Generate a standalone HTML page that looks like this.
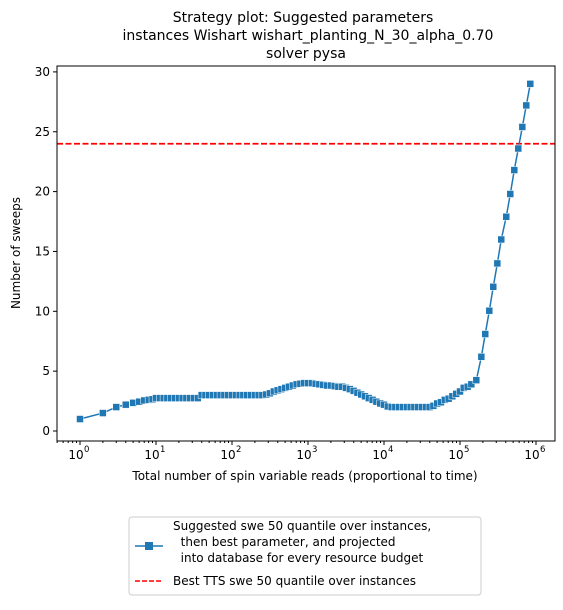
<!DOCTYPE html>
<html><head><meta charset="utf-8"><style>
body{margin:0;background:#fff;font-family:"Liberation Sans","DejaVu Sans",sans-serif}
svg text{font-family:"DejaVu Sans","Liberation Sans",sans-serif;white-space:pre}
</style></head><body>
<svg id="chart" width="563" height="605" xmlns="http://www.w3.org/2000/svg">
<rect width="563" height="605" fill="#fff"/>
<g font-size="14" text-anchor="middle" fill="#000">
<text x="303" y="22">Strategy plot: Suggested parameters</text>
<text x="308" y="40">instances Wishart wishart_planting_N_30_alpha_0.70</text>
<text x="306" y="58">solver pysa</text>
</g>
<g id="plot"></g>
<text x="305" y="480" font-size="12" text-anchor="middle">Total number of spin variable reads (proportional to time)</text>
<text transform="translate(20,253) rotate(-90)" font-size="12" text-anchor="middle">Number of sweeps</text>
<g>
<rect x="129" y="517" width="352" height="78" fill="#fff" stroke="#ccc" rx="3"/>
<line x1="135" y1="546" x2="163" y2="546" stroke="#1f77b4" stroke-width="1.5"/>
<rect x="145" y="542" width="8" height="8" fill="#1f77b4"/>
<text font-size="12" x="173" y="530">Suggested swe 50 quantile over instances,</text>
<text font-size="12" x="173" y="546">&#160;&#160;then best parameter, and projected</text>
<text font-size="12" x="173" y="562">&#160;&#160;into database for every resource budget</text>
<line x1="135" y1="581" x2="163" y2="581" stroke="#ff0000" stroke-width="1.5" stroke-dasharray="5,2"/>
<text font-size="12" x="173" y="585">Best TTS swe 50 quantile over instances</text>
</g>
</svg>
<script>
const reads=[1,2,3,4,5,6,7,8,9,
10,11.2,12.6,14.1,15.8,17.8,20,22.4,25.1,28.2,31.6,35.5,39.8,44.7,50.1,56.2,63.1,70.8,79.4,89.1,
100,112,126,141,158,178,200,224,251,282,316,355,398,447,501,562,631,708,794,891,
1000,1120,1260,1410,1580,1780,2000,2240,2510,2820,3160,3550,3980,4470,5010,5620,6310,7080,7940,8910,
10000,11200,12600,14100,15800,17800,20000,22400,25100,28200,31600,35500,39800,44700,50100,56200,63100,70800,79400,89100,
100000,112000,126000,141000,164000,191000,215000,243000,274000,310000,349000,406000,459000,518000,585000,661000,745000,841000];
const sweeps=[1.0,1.5,2.0,2.2,2.35,2.45,2.55,2.6,2.65,
2.75,2.75,2.75,2.75,2.75,2.75,2.75,2.75,2.75,2.75,2.75,2.75,3.0,3.0,3.0,3.0,3.0,3.0,3.0,3.0,
3.0,3.0,3.0,3.0,3.0,3.0,3.0,3.0,3.0,3.05,3.15,3.3,3.4,3.5,3.6,3.7,3.8,3.9,3.95,4.0,
4.0,4.0,3.95,3.9,3.85,3.8,3.8,3.75,3.7,3.7,3.6,3.5,3.35,3.2,3.05,2.9,2.75,2.6,2.45,2.3,
2.2,2.05,2.0,2.0,2.0,2.0,2.0,2.0,2.0,2.0,2.0,2.0,2.0,2.1,2.3,2.4,2.6,2.7,2.9,3.1,
3.3,3.6,3.7,3.9,4.25,6.2,8.1,10.05,12.05,14.0,16.0,17.9,19.8,21.8,23.6,25.4,27.2,29.0];
const bestTTS=[24];
const yTicks=[0,5,10,15,20,25,30];
const xTickExps=[0,1,2,3,4,5,6];
const L=57,R=555,T=66,B=441;
const X=v=>80+Math.log10(v)*76;
const Y=v=>431-v*11.97;
const NS='http://www.w3.org/2000/svg';
const g=document.getElementById('plot');
function mk(t,a,p){const e=document.createElementNS(NS,t);for(const k in a)e.setAttribute(k,a[k]);(p||g).appendChild(e);return e;}
const rl=mk('line',{x1:L,x2:R,y1:Y(bestTTS[0]),y2:Y(bestTTS[0]),stroke:'#ff0000','stroke-width':1.8,'stroke-dasharray':'6,2.5'});


const pl=mk('polyline',{points:reads.map((r,i)=>X(r)+','+Y(sweeps[i])).join(' '),fill:'none',stroke:'#1f77b4','stroke-width':1.5});


reads.forEach((r,i)=>{const m=mk('rect',{x:X(r)-3.5,y:Y(sweeps[i])-3.5,width:7,height:7,fill:'#1f77b4',stroke:'#fff','stroke-width':0.5});

});
const fr=mk('rect',{x:L,y:T,width:R-L,height:B-T,fill:'none',stroke:'#000','stroke-width':1});


yTicks.forEach(v=>{mk('line',{x1:L-4,x2:L,y1:Y(v),y2:Y(v),stroke:'#000'});
const t=mk('text',{x:L-7,y:Y(v)+4,'font-size':12,'text-anchor':'end'});t.textContent=v;

});
for(let e=-1;e<=6;e++){for(let k=2;k<=9;k++){const x=X(k*Math.pow(10,e));if(x>L&&x<R)mk('line',{x1:x,x2:x,y1:B,y2:B+2,stroke:'#000'});}}
xTickExps.forEach(e=>{const x=X(Math.pow(10,e));mk('line',{x1:x,x2:x,y1:B,y2:B+4,stroke:'#000'});
const t=mk('text',{x:x-4,y:B+18,'font-size':12,'text-anchor':'middle'});t.textContent='10';


const s=mk('text',{x:x+4,y:B+11,'font-size':8.5,'text-anchor':'start'});s.textContent=e;});
</script>
</body></html>
